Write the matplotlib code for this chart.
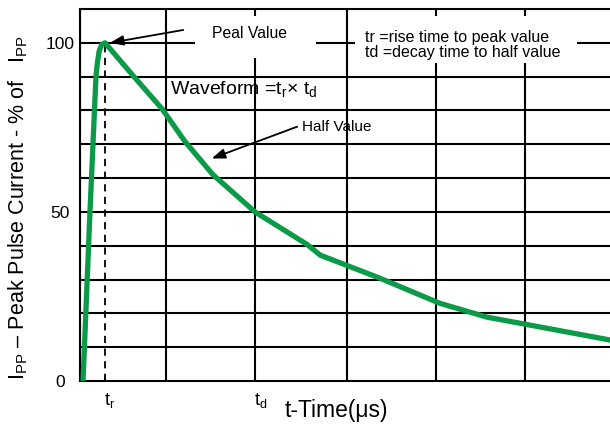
import matplotlib
matplotlib.use("Agg")
import matplotlib.pyplot as plt
from matplotlib.patches import Rectangle
from matplotlib.transforms import blended_transform_factory

plt.rcParams['font.family'] = ['Liberation Sans', 'DejaVu Sans']
plt.rcParams['mathtext.fontset'] = 'custom'
plt.rcParams['mathtext.rm'] = 'Liberation Sans'
plt.rcParams['mathtext.it'] = 'Liberation Sans'

# waveform (time in arbitrary units, current in % of Ipp)
t_vals = [0.34, 1.12, 1.8, 1.95, 2.15, 2.45, 2.81, 5.96, 9.21, 11.8, 14.94, 19.66,
          25.5, 27.0, 33.7, 40.4, 45.7, 50.0, 59.6]
i_vals = [0, 50, 90.3, 94, 97.5, 99.5, 100, 90.3, 80.5, 70.8, 61, 50,
          40.4, 37.2, 30.4, 23, 18.9, 16.8, 12.1]

t_r = 2.81
t_d = 19.66
x_grid = [0, 9.66, 19.66, 30, 40, 50]
y_grid = [10, 20, 30, 40, 50, 60, 70, 80, 90, 100]
y_ticks = [0, 50, 100]
y_ticklabels = ['0', '50', '100']
x_ticklabels = ['$\\mathregular{t_r}$', '$\\mathregular{t_d}$']

green = '#0b9a48'

fig = plt.figure(figsize=(6.1, 4.3), dpi=100)
ax = fig.add_axes([80/610, 49/430, 530/610, 372/430])
ax.set_xlim(0, 59.55)
ax.set_ylim(0, 110)

for s in ['left', 'top', 'bottom']:
    ax.spines[s].set_linewidth(1.5)
ax.spines['right'].set_visible(False)

for y in y_grid:
    ax.axhline(y, color='black', lw=1.5, zorder=1)
for x in x_grid:
    ax.axvline(x, color='black', lw=1.5, zorder=1)

# white boxes behind annotation text
ax.add_patch(Rectangle((12.92, 95.6), 26.5 - 12.92, 108 - 95.6, facecolor='white',
                       edgecolor='none', zorder=2))
ax.add_patch(Rectangle((30.9, 94.1), 55.8 - 30.9, 108 - 94.1, facecolor='white',
                       edgecolor='none', zorder=2))

# dashed markers
ax.plot([t_r, t_r], [0, 100], color='black', lw=1.3, ls=(0, (4, 3)), zorder=2.5)
ax.plot([t_d, t_d], [0, 50], color='black', lw=1.3, ls=(0, (4, 3)), zorder=2.5)

ax.plot(t_vals, i_vals, color=green, lw=3.8, zorder=4, solid_joinstyle='round')

ax.set_yticks(y_ticks)
ax.set_yticklabels(y_ticklabels, fontsize=12.5, ha='center')
ax.tick_params(axis='y', length=0, pad=14.5)
ax.set_xticks([t_r, t_d])
ax.set_xticklabels([])
ax.tick_params(axis='x', direction='in', length=3, width=1.3)

trans = blended_transform_factory(ax.transData, ax.transAxes)
for xv, lab in zip([t_r, t_d], x_ticklabels):
    ax.text(xv - 0.1, -0.053, lab, transform=trans, ha='left', va='center', fontsize=13)

ax.text(0.483, -0.08, 't-Time(μs)', transform=ax.transAxes, ha='center', va='center',
        fontsize=16.5)
fig.text(18/610, 1 - 208/430,
         '$\\mathregular{I_{PP}}$ – Peak Pulse Current - % of   $\\mathregular{I_{PP}}$',
         rotation=90, ha='center', va='center', fontsize=15.5)

ax.text(19.1, 102.7, 'Peal Value', ha='center', va='center', fontsize=11.3, zorder=5)
ax.text(32.0, 99.5, 'tr =rise time to peak value\ntd =decay time to half value',
        ha='left', va='center', fontsize=11.5, linespacing=1.0, zorder=5)
ax.text(10.1, 86.4, 'Waveform =t$\\mathregular{_r}$× t$\\mathregular{_d}$',
        ha='left', va='center', fontsize=14, zorder=5)
ax.text(24.9, 75.2, 'Half Value', ha='left', va='center', fontsize=11, zorder=5)

ax.annotate('', xy=(3.37, 100), xytext=(11.6, 103.8),
            arrowprops=dict(arrowstyle='-|>,head_length=0.8,head_width=0.3', color='black',
                            lw=1.3, shrinkA=0, shrinkB=0), zorder=5)
ax.annotate('', xy=(14.8, 65.8), xytext=(24.4, 75.2),
            arrowprops=dict(arrowstyle='-|>,head_length=0.8,head_width=0.3', color='black',
                            lw=1.3, shrinkA=0, shrinkB=0), zorder=5)

fig.savefig('out.png', dpi=100)
